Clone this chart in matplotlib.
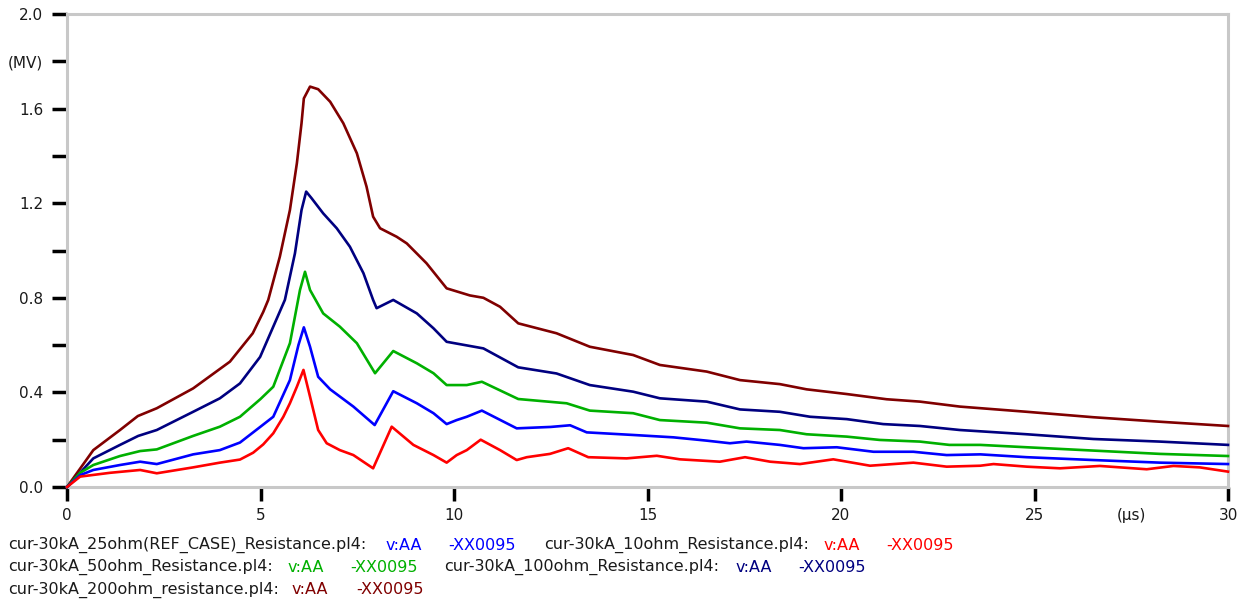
import matplotlib
matplotlib.use('Agg')

import matplotlib.pyplot as plt

# voltage at node XX0095 for different grounding resistances (time in us, voltage in MV)
t_10 = [0, 0.34, 1.11, 1.89, 2.32, 3.26, 3.95, 4.47, 4.81, 5.07, 5.33, 5.59, 5.76, 5.94, 6.11,
        6.28, 6.49, 6.71, 7.05, 7.40, 7.91, 8.39, 8.95, 9.47, 9.81, 10.07, 10.33, 10.69, 11.19,
        11.62, 11.88, 12.48, 12.95, 13.47, 14.46, 15.24, 15.84, 16.87, 17.52, 18.17, 18.94,
        19.80, 20.75, 21.87, 22.73, 23.6, 23.94, 24.8, 25.66, 26.69, 27.9, 28.59, 29.27, 30]
v_10 = [0, 0.044, 0.06, 0.072, 0.058, 0.083, 0.103, 0.116, 0.145, 0.18, 0.227, 0.297, 0.354,
        0.424, 0.495, 0.382, 0.241, 0.185, 0.156, 0.135, 0.079, 0.255, 0.178, 0.135, 0.103,
        0.135, 0.156, 0.2, 0.156, 0.114, 0.126, 0.14, 0.164, 0.126, 0.121, 0.132, 0.117, 0.107,
        0.126, 0.107, 0.097, 0.117, 0.09, 0.103, 0.086, 0.09, 0.097, 0.086, 0.079, 0.089,
        0.075, 0.089, 0.083, 0.065]

t_25 = [0, 0.34, 0.68, 1.37, 1.89, 2.32, 3.26, 3.95, 4.47, 5.0, 5.33, 5.76, 5.98, 6.12, 6.28,
        6.49, 6.80, 7.40, 7.95, 8.43, 9.04, 9.47, 9.81, 10.07, 10.33, 10.72, 11.62, 12.5, 13.0,
        13.43, 14.63, 15.67, 16.53, 17.13, 17.56, 18.42, 19.03, 19.89, 20.84, 21.87, 22.73,
        23.6, 24.8, 26.52, 28.24, 30]
v_25 = [0, 0.05, 0.072, 0.093, 0.107, 0.097, 0.138, 0.156, 0.188, 0.255, 0.297, 0.452, 0.6,
        0.675, 0.593, 0.466, 0.413, 0.34, 0.262, 0.405, 0.354, 0.312, 0.266, 0.283, 0.297,
        0.323, 0.248, 0.254, 0.261, 0.231, 0.22, 0.21, 0.196, 0.185, 0.192, 0.178, 0.164,
        0.168, 0.149, 0.149, 0.135, 0.138, 0.126, 0.114, 0.103, 0.097]

t_50 = [0, 0.34, 0.68, 1.37, 1.89, 2.32, 3.26, 3.95, 4.47, 5.0, 5.33, 5.76, 6.02, 6.15, 6.28,
        6.62, 7.05, 7.49, 7.96, 8.43, 9.04, 9.47, 9.81, 10.33, 10.72, 11.66, 12.91, 13.51,
        14.63, 15.32, 16.53, 17.39, 18.42, 19.11, 20.15, 21.0, 22.04, 22.8, 23.6, 24.8, 26.52,
        28.24, 30]
v_50 = [0, 0.06, 0.093, 0.131, 0.152, 0.159, 0.216, 0.255, 0.297, 0.372, 0.424, 0.608, 0.833,
        0.91, 0.833, 0.734, 0.678, 0.608, 0.481, 0.575, 0.523, 0.481, 0.431, 0.431, 0.445,
        0.372, 0.354, 0.323, 0.312, 0.283, 0.272, 0.248, 0.241, 0.223, 0.213, 0.199, 0.192,
        0.178, 0.178, 0.168, 0.154, 0.14, 0.131]

t_100 = [0, 0.68, 1.37, 1.84, 2.32, 3.26, 3.95, 4.47, 4.99, 5.63, 5.89, 6.06, 6.18, 6.32, 6.62,
         6.97, 7.31, 7.66, 7.91, 8.0, 8.43, 9.04, 9.47, 9.81, 10.76, 11.66, 12.65, 13.51,
         14.63, 15.32, 16.53, 17.39, 18.42, 19.2, 20.15, 21.09, 22.04, 23.07, 24.8, 26.52,
         28.24, 30]
v_100 = [0, 0.121, 0.178, 0.216, 0.241, 0.318, 0.375, 0.438, 0.55, 0.791, 0.988, 1.171, 1.249,
         1.221, 1.157, 1.094, 1.016, 0.904, 0.791, 0.756, 0.791, 0.734, 0.671, 0.614, 0.586,
         0.506, 0.48, 0.431, 0.403, 0.375, 0.361, 0.328, 0.318, 0.297, 0.287, 0.266, 0.258,
         0.241, 0.223, 0.203, 0.192, 0.178]

t_200 = [0, 0.68, 1.37, 1.83, 2.32, 3.26, 4.21, 4.8, 5.07, 5.20, 5.50, 5.76, 5.94, 6.06, 6.12,
         6.28, 6.49, 6.80, 7.14, 7.49, 7.74, 7.91, 8.09, 8.52, 8.78, 9.29, 9.81, 10.41, 10.76,
         11.19, 11.66, 12.65, 13.51, 14.63, 15.32, 16.53, 17.39, 18.42, 19.11, 20.15, 21.18,
         22.04, 23.07, 24.8, 26.52, 28.24, 30]
v_200 = [0, 0.156, 0.241, 0.30, 0.333, 0.417, 0.53, 0.65, 0.74, 0.791, 0.974, 1.171, 1.369,
         1.538, 1.643, 1.693, 1.682, 1.629, 1.538, 1.411, 1.27, 1.143, 1.094, 1.058, 1.03,
         0.946, 0.84, 0.81, 0.80, 0.762, 0.692, 0.65, 0.593, 0.558, 0.516, 0.488, 0.452, 0.435,
         0.413, 0.393, 0.371, 0.361, 0.34, 0.318, 0.295, 0.276, 0.258]

files = ['cur-30kA_25ohm(REF_CASE)_Resistance.pl4:', 'cur-30kA_10ohm_Resistance.pl4:',
         'cur-30kA_50ohm_Resistance.pl4:', 'cur-30kA_100ohm_Resistance.pl4:',
         'cur-30kA_200ohm_resistance.pl4:']

BLUE, RED, GREEN, NAVY, MAROON = '#0000ff', '#ff0000', '#00b000', '#000080', '#800000'
TXT = '#1a1a1a'

W, H = 1247, 601
fig = plt.figure(figsize=(W / 100, H / 100), dpi=100)
ax = fig.add_axes([67 / W, 1 - 487 / H, (1228 - 67) / W, (487 - 14) / H])

for t, v, c in [(t_200, v_200, MAROON), (t_100, v_100, NAVY), (t_50, v_50, GREEN),
                (t_25, v_25, BLUE), (t_10, v_10, RED)]:
    ax.plot(t, v, color=c, lw=1.9, solid_joinstyle='round', clip_on=False, zorder=3)

ax.set_xlim(0, 30)
ax.set_ylim(0, 2.0)

for s in ax.spines.values():
    s.set_color('#c8c8c8')
    s.set_linewidth(2.2)

ax.set_xticks([0, 5, 10, 15, 20, 25, 30])
ax.set_xticks([27.5], ['(\u00b5s)'], minor=True)
yt = [0, 0.2, 0.4, 0.6, 0.8, 1.0, 1.2, 1.4, 1.6, 1.8, 2.0]
ylab = ['0.0', '', '0.4', '', '0.8', '', '1.2', '', '1.6', '(MV)', '2.0']
ax.set_yticks(yt, ylab)

ax.tick_params(axis='both', which='major', direction='out', color='black', width=2.5,
               labelsize=11, labelcolor=TXT)
ax.tick_params(axis='x', which='major', length=10, pad=5)
ax.tick_params(axis='y', which='major', length=11, pad=6)
ax.tick_params(axis='x', which='minor', length=0, pad=15, labelsize=11, labelcolor=TXT)

# legend lines below the plot: file name, variable, node
rows = [
    (545, [(8, files[0], TXT), (386, 'v:AA', BLUE), (448, '-XX0095', BLUE),
           (544, files[1], TXT), (824, 'v:AA', RED), (886, '-XX0095', RED)]),
    (567, [(8, files[2], TXT), (288, 'v:AA', GREEN), (350, '-XX0095', GREEN),
           (444, files[3], TXT), (736, 'v:AA', NAVY), (798, '-XX0095', NAVY)]),
    (590, [(8, files[4], TXT), (292, 'v:AA', MAROON), (356, '-XX0095', MAROON)]),
]
for y, parts in rows:
    for x, txt, c in parts:
        fig.text(x / W, 1 - y / H, txt, color=c, fontsize=11.5, ha='left', va='center')

fig.savefig('out.png', dpi=100)
